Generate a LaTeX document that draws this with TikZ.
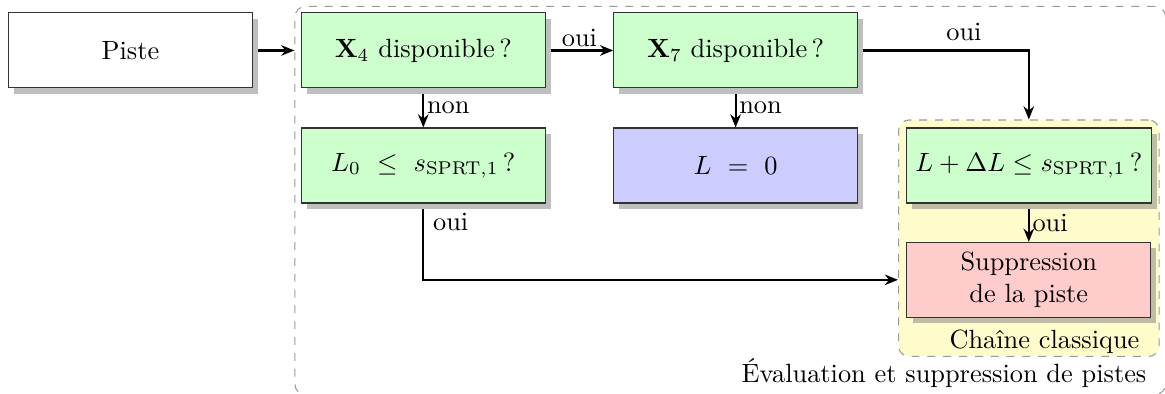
\documentclass[tikz,border=0pt]{standalone}
\usepackage{amsmath,amssymb}
\usepackage{tikz}
\usetikzlibrary{arrows.meta,positioning,fit,shadows,backgrounds,calc}

\begin{document}
\begin{tikzpicture}[>={Stealth[length=5pt,width=4pt]},
  box/.style={draw=black!80,minimum width=3.25cm,minimum height=1cm,fill=#1,drop shadow},
  box/.default=white,
  grp/.style={draw=gray!80,dashed,rounded corners,inner sep=0.1cm},
  arr/.style={->,thick,shorten <=2pt},
  lbl/.style={inner sep=1pt}]
  \useasboundingbox (0,0) rectangle (15.533,-5.253);
  % boxes
  \node[box] (piste) at (1.74,-0.673) {Piste};
  \node[box=green!20,right=0.64cm of piste] (xquatre) {$\mathbf{X}_4$ disponible\,?};
  \node[box=green!20,right=0.9cm of xquatre] (xsept) {$\mathbf{X}_7$ disponible\,?};
  \node[box=green!20,below=0.52cm of xquatre] (lzero) {$L_0\ \leq\ s_{\mathrm{SPRT},1}$\,?};
  \node[box=blue!20,below=0.52cm of xsept] (lnul) {$L\ =\ 0$};
  \node[box=green!20,right=0.64cm of lnul] (lpdl) {$L+\Delta L\leq s_{\mathrm{SPRT},1}$\,?};
  \node[box=red!20,below=0.51cm of lpdl,align=center] (supp) {Suppression\\de la piste};
  % groups
  \node[anchor=north east,inner sep=0pt] (clbl) at ($(supp.south east)+(-0.15,-0.16)$) {Chaîne classique};
  \begin{scope}[on background layer]
    \node[grp,fill=yellow!20,fit=(lpdl)(supp)(clbl.north west)(clbl.base east)] (chaine) {};
  \end{scope}
  \node[anchor=north east,inner sep=0pt] (elbl) at ($(chaine.south east)+(-0.17,-0.02)$) {Évaluation et suppression de pistes};
  \begin{scope}[on background layer]
    \node[grp,inner sep=0.08cm,fit=(xquatre)(chaine)(elbl)] (evalbox) {};
  \end{scope}
  % arrows
  \draw[arr] (piste.east) -- (piste.east -| evalbox.west);
  \draw[arr] (xquatre) -- node[above,lbl]{oui} (xsept);
  \draw[arr] (xquatre) -- node[right,lbl]{non} (lzero);
  \draw[arr] (xsept) -- node[right,lbl]{non} (lnul);
  \draw[arr] (xsept.east) -| node[pos=0.31,above]{oui} (chaine.north);
  \draw[arr] (lpdl) -- node[right,lbl]{oui} (supp);
  \draw[arr] (lzero.south) |- node[pos=0.12,right]{oui} (supp -| chaine.west);
\end{tikzpicture}
\end{document}
